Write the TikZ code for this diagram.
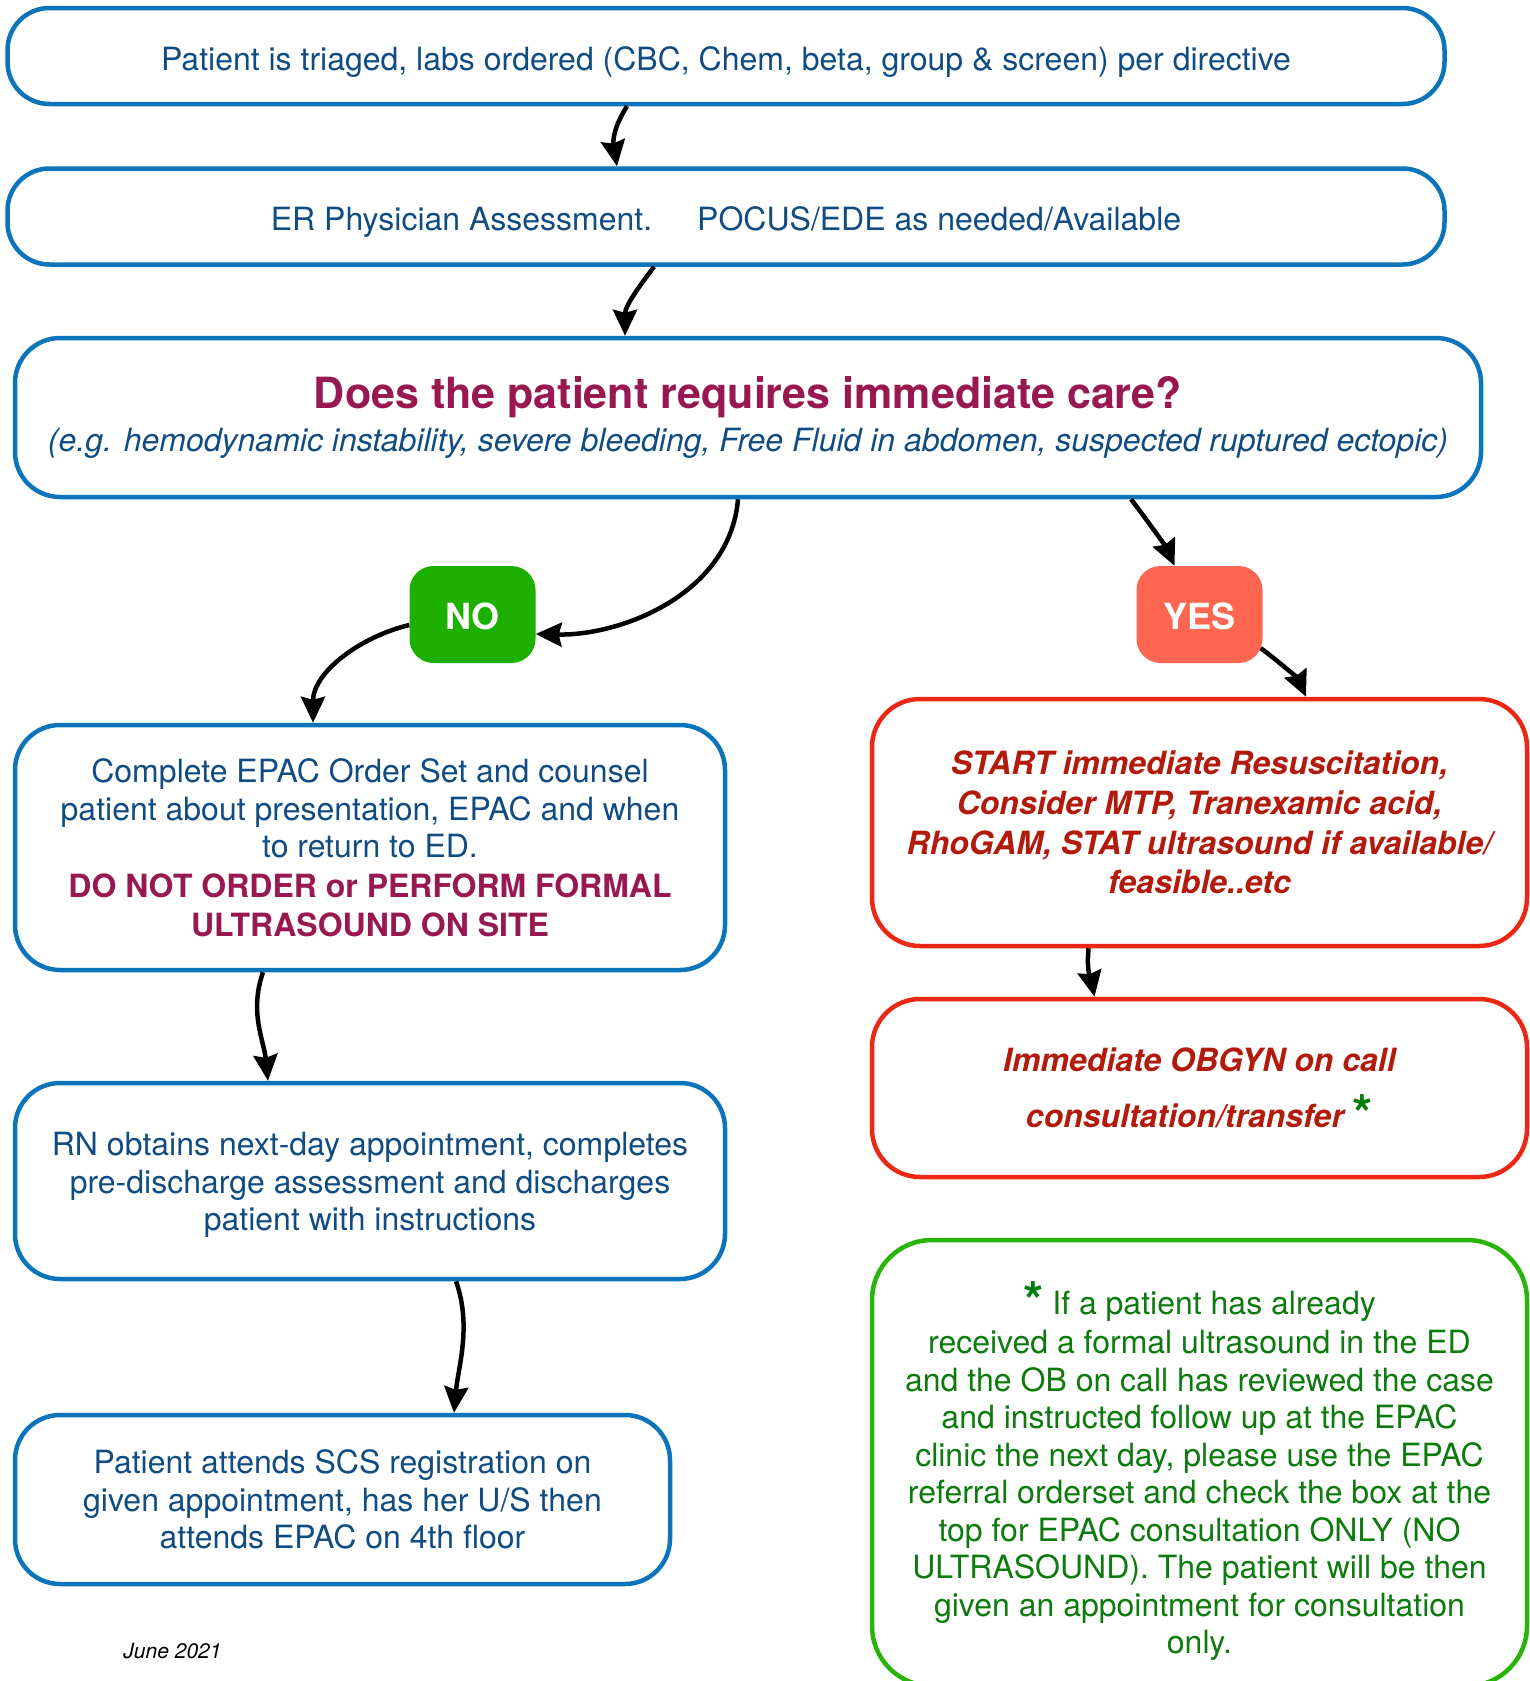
\documentclass[tikz,border=0pt]{standalone}
\usepackage{fontspec}
\setmainfont{TeX Gyre Heros}
\usetikzlibrary{arrows.meta}
\definecolor{bblue}{RGB}{12,116,186}
\definecolor{tblue}{RGB}{16,76,130}
\definecolor{maroon}{RGB}{152,24,80}
\definecolor{nogreen}{RGB}{30,176,0}
\definecolor{yessalmon}{RGB}{255,102,82}
\definecolor{bred}{RGB}{236,40,20}
\definecolor{tred}{RGB}{178,26,12}
\definecolor{bgreen}{RGB}{40,180,10}
\definecolor{tgreen}{RGB}{12,122,12}
\definecolor{astgreen}{RGB}{0,125,10}
\newcommand{\gast}{{\color{astgreen}\raisebox{-5pt}{\fontsize{52}{52}\selectfont\bfseries\upshape *}}}
\newcommand{\lift}[1]{\rule{0pt}{#1}}
\begin{document}
\begin{tikzpicture}[x=1pt,y=-1pt,
  box/.style={draw=bblue,line width=4.5pt,rounded corners=45pt,inner sep=0pt,
    align=center,text=tblue,font=\fontsize{32}{37.5}\selectfont},
  redbox/.style={box,draw=bred,rounded corners=48pt,text=tred,
    font=\fontsize{32}{37.5}\selectfont\bfseries\itshape},
  greenbox/.style={box,draw=bgreen,rounded corners=60pt},
  pill/.style={rounded corners=24pt,minimum width=126pt,minimum height=97pt,
    inner sep=0pt,text=white,font=\fontsize{36}{36}\selectfont\bfseries},
  arr/.style={line width=4.5pt,-{Stealth[length=26pt,width=24pt,inset=3pt]}}
]
\useasboundingbox (0,0) rectangle (1529,1681);

\node[box,rounded corners=42pt,minimum width=1437pt,minimum height=96pt] (b1) at (726,56)
  {\lift{36pt}Patient is triaged, labs ordered (CBC, Chem, beta, group \& screen) per directive};
\node[box,rounded corners=42pt,minimum width=1437pt,minimum height=96pt] (b2) at (726,216.5)
  {\lift{34pt}ER Physician Assessment.\hspace{45pt}POCUS/EDE as needed/Available};
\node[box,minimum width=1466pt,minimum height=159pt] (b3) at (748,417.5)
  {{\color{maroon}\fontsize{43}{48}\selectfont\bfseries Does the patient requires immediate care?}\\[5pt]
   {\itshape (e.g. hemodynamic instability, severe bleeding, Free Fluid in abdomen, suspected ruptured ectopic)}};

\node[pill,fill=nogreen] (no) at (472.5,614.5) {\lift{30pt}NO};
\node[pill,fill=yessalmon] (yes) at (1199.5,614.5) {\lift{30pt}YES};

\node[box,minimum width=710pt,minimum height=245pt] (no1) at (370,847.5)
  {Complete EPAC Order Set and counsel\\
   patient about presentation, EPAC and when\\
   to return to ED.\\[2pt]
   {\color{maroon}\bfseries DO NOT ORDER or PERFORM FORMAL}\\[1.5pt]
   {\color{maroon}\bfseries ULTRASOUND ON SITE}};
\node[box,minimum width=710pt,minimum height=196pt] (no2) at (370,1181)
  {\lift{31pt}RN obtains next-day appointment, completes\\
   pre-discharge assessment and discharges\\
   patient with instructions};
\node[box,minimum width=655pt,minimum height=169pt] (no3) at (342.5,1499.5)
  {Patient attends SCS registration on\\
   given appointment, has her U/S then\\
   attends EPAC on 4th floor};

\node[redbox,minimum width=655pt,minimum height=247pt] (yes1) at (1199.5,822.5)
  {START immediate Resuscitation,\\[2.2pt]
   Consider MTP, Tranexamic acid,\\[2.2pt]
   RhoGAM, STAT ultrasound if available/\\[2.2pt]
   feasible..etc};
\node[redbox,minimum width=655pt,minimum height=178pt] (yes2) at (1199.5,1088)
  {\lift{27.5pt}Immediate OBGYN on call\\[19pt]
   consultation/transfer \gast};

\node[greenbox,minimum width=655pt,minimum height=446pt] (note) at (1199.5,1463) {};
\node[align=center,inner sep=0pt,text=tgreen,font=\fontsize{32}{37.5}\selectfont]
  (notetext) at ([yshift=-8pt]note.center)
  {\gast\ If a patient has already\\[2pt]
   received a formal ultrasound in the ED\\
   and the OB on call has reviewed the case\\
   and instructed follow up at the EPAC\\
   clinic the next day, please use the EPAC\\
   referral orderset and check the box at the\\
   top for EPAC consultation ONLY (NO\\
   ULTRASOUND). The patient will be then\\
   given an appointment for consultation\\
   only.};

\node[inner sep=0pt,font=\fontsize{21}{21}\selectfont\itshape] (date) at (172.5,1651) {June 2021};

\draw[arr] ([xshift=-99pt]b1.south) .. controls +(-14,22) and +(-4,-25) .. ([xshift=-109pt]b2.north);
\draw[arr] ([xshift=-72pt]b2.south) .. controls +(-15,20) and +(0,-30) .. ([xshift=-123pt]b3.north);
\draw[arr] ([xshift=-10pt]b3.south) .. controls +(-8,95) and +(85,2) .. ([yshift=-19.5pt]no.east);
\draw[arr] ([yshift=-10.5pt]no.west) .. controls +(-50,12) and +(0,-50) .. ([xshift=-57pt]no1.north);
\draw[arr] ([xshift=383pt]b3.south) .. controls +(14,18) and +(-8,-18) .. ([xshift=-25pt]yes.north);
\draw[arr] ([xshift=-2pt,yshift=15pt]yes.south east) .. controls +(14,10) and +(-8,-18) .. ([xshift=106.5pt]yes1.north);
\draw[arr] ([xshift=-111pt]yes1.south) .. controls +(-2,25) and +(-4,-20) .. ([xshift=-105pt]yes2.north);
\draw[arr] ([xshift=-107pt]no1.south) .. controls +(-14,40) and +(-4,-40) .. ([xshift=-102pt]no2.north);
\draw[arr] ([xshift=86pt]no2.south) .. controls +(16,45) and +(4,-45) .. ([xshift=111.5pt]no3.north);
\end{tikzpicture}
\end{document}
